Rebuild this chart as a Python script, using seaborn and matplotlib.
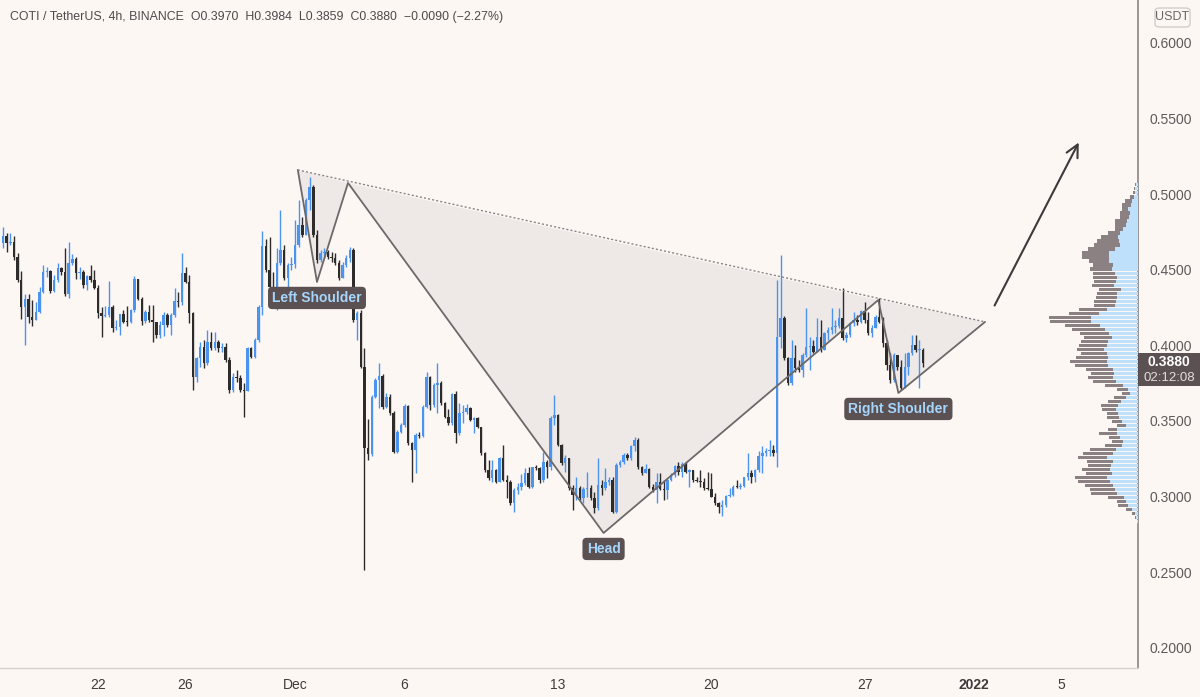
import numpy as np
import pandas as pd
import matplotlib
matplotlib.use("Agg")
import matplotlib.pyplot as plt
from matplotlib.patches import Polygon, Rectangle, FancyBboxPatch
import seaborn as sns

# ---- OHLC data (COTI/USDT 4h) ----
first_open = 0.4679
closes = [
    .4723, .4675, .4686, .4587, .4433, .4254, .4306, .4188, .4168, .4223,
    .4355, .4488, .4494, .4360, .4433, .4510, .4488, .4340, .4543, .4569,
    .4481, .4488, .4400, .4459, .4433, .4378, .4212, .4194, .4203, .4252,
    .4113, .4120, .4206, .4157, .4153, .4234, .4438, .4305, .4163, .4223,
    .4168, .4157, .4069, .4135, .4201, .4135, .4201, .4296, .4289, .4481,
    .4422, .4212, .3793, .3915, .3992, .3882, .4025, .3981, .4025, .3981,
    .3992, .3904, .3705, .3793, .3782, .3705, .3700, .3981, .3926, .4036,
    .4256, .4657, .4499, .4389, .4382, .4543, .4631, .4444, .4532, .4538,
    .4664, .4796, .4730, .4962, .5049, .4730, .4565, .4609, .4618, .4587,
    .4576, .4543, .4444, .4532, .4576, .4631, .4168, .4212, .3860, .3320,
    .3282, .3661, .3771, .3798, .3595, .3661, .3551, .3297, .3429, .3474,
    .3599, .3353, .3309, .3408, .3401, .3595, .3789, .3606, .3738, .3753,
    .3617, .3529, .3485, .3678, .3419, .3555, .3560, .3584, .3507, .3518,
    .3461, .3287, .3176, .3121, .3176, .3098, .3254, .3110, .3098, .2956,
    .3044, .3066, .3092, .3154, .3062, .3194, .3187, .3110, .3230, .3196,
    .3520, .3540, .3342, .3221, .3254, .3055, .3011, .3055, .2989, .3049,
    .3055, .2989, .2923, .3077, .3055, .3098, .3110, .2901, .3209, .3231,
    .3276, .3254, .3331, .3375, .3196, .3154, .3180, .3066, .3044, .3098,
    .3049, .3040, .3110, .3143, .3203, .3165, .3216, .3165, .3176, .3110,
    .3103, .3097, .3055, .3051, .3000, .2956, .2934, .2945, .3004, .3011,
    .3066, .3062, .3070, .3128, .3158, .3128, .3176, .3269, .3287, .3298,
    .3309, .3287, .4058, .4179, .3915, .3749, .3915, .3851, .3838, .3937,
    .3990, .3996, .3957, .4056, .3970, .4082, .4102, .4122, .4128, .4181,
    .4049, .4069, .4148, .4168, .4155, .4228, .4168, .4082, .4115, .4188,
    .4155, .4016, .3871, .3771, .3937, .3857, .3718, .3857, .3950, .4003,
    .3970, .3970, .3880,
]
highs = [
    .4785, .4741, .4745, .4723, .4611, .4494, .4340, .4340, .4300, .4289,
    .4389, .4532, .4521, .4499, .4466, .4547, .4521, .4642, .4686, .4603,
    .4587, .4517, .4499, .4466, .4532, .4499, .4400, .4256, .4260, .4426,
    .4267, .4168, .4208, .4234, .4260, .4239, .4459, .4438, .4322, .4234,
    .4267, .4267, .4157, .4161, .4223, .4214, .4212, .4378, .4355, .4609,
    .4521, .4466, .4223, .3926, .4025, .4036, .4102, .4091, .4091, .4036,
    .4016, .4014, .3926, .3815, .3838, .3805, .3749, .3992, .3992, .4047,
    .4267, .4759, .4702, .4719, .4488, .4642, .4896, .4664, .4543, .4587,
    .4829, .4962, .4851, .4973, .5116, .5061, .4763, .4631, .4644, .4631,
    .4618, .4611, .4565, .4552, .4598, .4651, .4644, .4227, .4234, .3981,
    .3511, .3672, .3784, .3886, .3811, .3683, .3678, .3566, .3441, .3487,
    .3613, .3606, .3362, .3419, .3428, .3606, .3826, .3798, .3751, .3886,
    .3764, .3626, .3580, .3685, .3698, .3620, .3606, .3613, .3593, .3527,
    .3527, .3463, .3296, .3243, .3243, .3180, .3261, .3342, .3143, .3110,
    .3055, .3088, .3150, .3187, .3198, .3198, .3209, .3198, .3296, .3243,
    .3533, .3672, .3547, .3348, .3276, .3254, .3077, .3132, .3070, .3062,
    .3165, .3077, .3033, .3254, .3110, .3187, .3128, .3128, .3221, .3243,
    .3287, .3289, .3342, .3397, .3388, .3203, .3216, .3187, .3084, .3154,
    .3154, .3110, .3114, .3156, .3209, .3231, .3231, .3229, .3183, .3176,
    .3130, .3176, .3123, .3165, .3154, .3022, .2967, .2978, .3011, .3055,
    .3077, .3110, .3090, .3132, .3287, .3176, .3180, .3303, .3331, .3320,
    .3375, .3342, .4433, .4598, .4194, .3926, .4036, .4003, .3904, .3950,
    .4247, .4056, .4036, .4181, .4168, .4089, .4122, .4247, .4168, .4247,
    .4380, .4089, .4155, .4221, .4201, .4234, .4287, .4221, .4135, .4201,
    .4313, .4188, .4036, .3950, .3950, .3937, .3904, .3950, .3957, .4069,
    .4069, .4036, .3984,
]
lows = [
    .4642, .4620, .4664, .4565, .4422, .4173, .4003, .4146, .4128, .4168,
    .4212, .4344, .4455, .4348, .4355, .4422, .4466, .4326, .4311, .4532,
    .4438, .4442, .4378, .4366, .4422, .4373, .4179, .4054, .4190, .4190,
    .4091, .4102, .4069, .4146, .4128, .4150, .4223, .4300, .4135, .4150,
    .4157, .4025, .4047, .4049, .4062, .4122, .4069, .4190, .4256, .4267,
    .4411, .4150, .3705, .3760, .3860, .3849, .3871, .3970, .3970, .3957,
    .3957, .3893, .3683, .3694, .3760, .3694, .3529, .3705, .3915, .3915,
    .4025, .4201, .4488, .4378, .4378, .4234, .4532, .4433, .4389, .4499,
    .4510, .4653, .4719, .4730, .4896, .4719, .4543, .4552, .4578, .4572,
    .4552, .4532, .4433, .4444, .4519, .4552, .4155, .4036, .3851, .2515,
    .3243, .3269, .3652, .3584, .3580, .3587, .3540, .3288, .3288, .3421,
    .3461, .3342, .3098, .3158, .3388, .3395, .3587, .3573, .3591, .3551,
    .3606, .3520, .3474, .3474, .3355, .3408, .3487, .3547, .3500, .3421,
    .3454, .3276, .3163, .3110, .3098, .3088, .3098, .3106, .2989, .2945,
    .2901, .3018, .3044, .3077, .3055, .3055, .3176, .3092, .3097, .3123,
    .3176, .3474, .3335, .3210, .3165, .3044, .2912, .2978, .2978, .2956,
    .3000, .2978, .2890, .2912, .3011, .3044, .3077, .2894, .2894, .3196,
    .3216, .3243, .3243, .3298, .3183, .3143, .3154, .3055, .3031, .2956,
    .3044, .2978, .2982, .3103, .3132, .3143, .3128, .3156, .3066, .3099,
    .3097, .3066, .3044, .3044, .2996, .2945, .2890, .2872, .2934, .3000,
    .3004, .3055, .3048, .3066, .3110, .3092, .3098, .3165, .3154, .3265,
    .3269, .3265, .3198, .3981, .3904, .3738, .3738, .3824, .3824, .3791,
    .3924, .3838, .3950, .3957, .3957, .4003, .4036, .4075, .4082, .4115,
    .4036, .4023, .4056, .4128, .4135, .4148, .4148, .4069, .4056, .4122,
    .4148, .3990, .3838, .3751, .3758, .3838, .3705, .3771, .3805, .3937,
    .3957, .3718, .3859,
]
first_candle = "2021-11-17 16:00"

# ---- visible range volume profile (top row to bottom row) ----
profile_top, profile_bottom = 0.5061, 0.2835
profile_total = [
    2.5, 3.5, 4.8, 7.5, 12.2, 15.5, 15.5, 17.5, 17.5, 22.2,
    22.2, 22.2, 29.2, 36.8, 40.8, 43.2, 49.2, 55.8, 55.8, 48.2,
    44.8, 47.5, 44.2, 44.2, 43.2, 45.8, 38.2, 40.8, 41.5, 43.5,
    43.5, 58.2, 68.2, 89.0, 88.0, 72.5, 65.8, 57.5, 53.5, 56.8,
    58.2, 60.8, 56.8, 61.5, 67.5, 62.5, 51.5, 46.8, 49.2, 44.2,
    32.5, 20.2, 15.8, 23.5, 29.8, 36.8, 35.8, 30.8, 30.8, 25.8,
    20.8, 29.2, 38.2, 28.2, 25.8, 32.5, 47.5, 54.8, 59.2, 50.2,
    49.2, 55.8, 51.5, 62.5, 59.2, 52.5, 47.5, 46.8, 29.2, 20.2,
    19.2, 11.5, 5.8, 2.5, 0.8,
]
profile_up = [
    1.5, 2.2, 2.8, 3.5, 5.8, 6.8, 9.2, 7.5, 8.2, 10.8,
    11.8, 14.2, 17.5, 19.2, 18.2, 17.5, 22.5, 28.2, 28.2, 28.2,
    24.2, 25.8, 22.5, 20.8, 21.5, 23.5, 16.8, 20.2, 20.8, 21.5,
    22.5, 30.2, 38.2, 46.8, 46.8, 37.5, 32.5, 28.2, 25.8, 29.2,
    30.8, 33.2, 30.8, 29.2, 30.8, 29.2, 24.2, 23.5, 24.8, 21.5,
    14.8, 9.2, 7.5, 11.5, 16.8, 19.2, 21.5, 19.2, 18.2, 15.8,
    11.5, 20.8, 20.2, 17.5, 14.8, 15.8, 21.5, 24.8, 30.2, 24.2,
    26.8, 27.5, 25.8, 30.8, 27.5, 24.2, 22.5, 20.2, 13.5, 11.5,
    9.2, 5.8, 2.5, 1.5, 0.2,
]

# ---- inverse head & shoulders drawing ----
pattern_times = ["2021-12-01 03:00", "2021-12-02 00:00", "2021-12-03 10:00",
                 "2021-12-15 02:00", "2021-12-27 15:00", "2021-12-28 13:00",
                 "2022-01-01 12:00"]
pattern_prices = [0.5160, 0.4419, 0.5074, 0.2759, 0.4300, 0.3685, 0.4155]
pattern_labels = {1: "Left Shoulder", 3: "Head", 5: "Right Shoulder"}
arrow_times = ["2022-01-01 21:00", "2022-01-05 20:00"]
arrow_prices = [0.4247, 0.5358]

price_ticks = [0.20, 0.25, 0.30, 0.35, 0.40, 0.45, 0.50, 0.55, 0.60]
date_ticks = ["2021-11-22", "2021-11-26", "2021-12-01", "2021-12-06", "2021-12-13",
              "2021-12-20", "2021-12-27", "2022-01-01", "2022-01-05"]
date_labels = ["22", "26", "Dec", "6", "13", "20", "27", "2022", "5"]
header = "COTI / TetherUS, 4h, BINANCE  O0.3970  H0.3984  L0.3859  C0.3880  \u22120.0090 (\u22122.27%)"

BG = "#fdf7f4"
UP = "#4a94ef"
DOWN = "#2e2b2b"

sns.set_theme(style="white", rc={"axes.facecolor": BG, "figure.facecolor": BG})
plt.rcParams["font.family"] = ["Liberation Sans", "DejaVu Sans"]

df = pd.DataFrame({"close": closes, "high": highs, "low": lows})
df["open"] = [first_open] + closes[:-1]
df["time"] = pd.date_range(first_candle, periods=len(df), freq="4h")
body_lo = df[["open", "close"]].min(axis=1)
body_hi = df[["open", "close"]].max(axis=1)
df["high"] = np.maximum(df["high"], body_hi)
df["low"] = np.minimum(df["low"], body_lo)
colors = np.where(df["close"] >= df["open"], UP, DOWN)

fig = plt.figure(figsize=(12, 6.97), dpi=100)
ax = fig.add_axes([0, 29 / 697, 1137.5 / 1200, 668 / 697])

ax.vlines(df["time"], df["low"], df["high"], colors=colors, linewidth=1.0, zorder=3)
ax.bar(df["time"], np.maximum(body_hi - body_lo, 0.0006), bottom=body_lo,
       width=pd.Timedelta(hours=2.7), color=colors, linewidth=0, zorder=4)

# pattern
pt = pd.to_datetime(pattern_times)
px = [matplotlib.dates.date2num(t) for t in pt]
pts = list(zip(px, pattern_prices))
for tri in (pts[0:3], pts[2:5], pts[4:7]):
    ax.add_patch(Polygon(tri, closed=True, facecolor="#e9e5e3", alpha=0.75,
                         edgecolor="none", zorder=1))
ax.plot(pt, pattern_prices, color="#6d6869", linewidth=1.3, zorder=5)
ax.plot([pt[0], pt[-1]], [pattern_prices[0], pattern_prices[-1]], color="#8a8585",
        linewidth=1.0, linestyle=(0, (1.5, 1.5)), zorder=5)
for k, txt in pattern_labels.items():
    ax.annotate(txt, xy=(pt[k], pattern_prices[k]), xytext=(0, -11.5),
                textcoords="offset points", ha="center", va="center",
                fontsize=10, fontweight="bold", color="#a6d5fb", zorder=6,
                bbox=dict(boxstyle="round,pad=0.3,rounding_size=0.3",
                          fc="#5b5153", ec="none"))

at = pd.to_datetime(arrow_times)
ax.annotate("", xy=(at[1], arrow_prices[1]), xytext=(at[0], arrow_prices[0]),
            arrowprops=dict(arrowstyle="->", color="#3c3a3a", lw=1.5,
                            mutation_scale=22), zorder=6)

# volume profile
levels = np.linspace(profile_top, profile_bottom, len(profile_total))
vp = ax.inset_axes([1 - 100 / 1137.5, 0, 100 / 1137.5, 1])
sns.barplot(x=profile_total, y=levels, orient="h", native_scale=True, width=0.78,
            color="#8b8182", saturation=1, ax=vp, linewidth=0)
sns.barplot(x=profile_up, y=levels, orient="h", native_scale=True, width=0.78,
            color="#bfe0fa", saturation=1, ax=vp, linewidth=0)
vp.set_xlim(100, 0)
ylims = (0.1866, 0.6284)
vp.set_ylim(*ylims)
vp.axis("off")
vp.patch.set_alpha(0)

ax.set_ylim(*ylims)
ax.set_xlim(pd.Timestamp(first_candle) - pd.Timedelta(hours=3.3),
            pd.Timestamp(first_candle) + pd.Timedelta(hours=1243))

ax.yaxis.tick_right()
ax.set_yticks(price_ticks)
ax.set_yticklabels([f"{v:.4f}" for v in price_ticks])
ax.set_xticks(pd.to_datetime(date_ticks))
ax.set_xticklabels(date_labels)
for lab in ax.get_xticklabels():
    if lab.get_text() == "2022":
        lab.set_fontweight("bold")
ax.tick_params(axis="y", length=0, pad=9, labelsize=10, labelcolor="#5e5a5a")
ax.tick_params(axis="x", length=0, pad=7, labelsize=10, labelcolor="#3f3b3b")
ax.set_xlabel("")
ax.set_ylabel("")
for s in ("top", "left"):
    ax.spines[s].set_visible(False)
ax.spines["right"].set_color("#8a8585")
ax.spines["right"].set_linewidth(1.2)
ax.spines["bottom"].set_color("#d6d1cf")
ax.spines["bottom"].set_linewidth(1.0)

# header
fig.text(10 / 1200, 1 - 17 / 697, header, fontsize=8.9, color="#4f4a4a", va="center")

# currency badge
fig.patches.append(FancyBboxPatch((1155 / 1200, 1 - 27 / 697), 35 / 1200, 19 / 697,
                                  boxstyle="round,pad=0,rounding_size=0.004",
                                  transform=fig.transFigure, fc=BG, ec="#d2cccc", lw=1))
fig.text(1172.5 / 1200, 1 - 17.5 / 697, "USDT", fontsize=9, color="#6b6666",
         ha="center", va="center")

# last price tag
fig.patches.append(Rectangle((1138 / 1200, 1 - 386 / 697), 62 / 1200, 33 / 697,
                             transform=fig.transFigure, fc="#5b5153", ec="none"))
fig.text(1169 / 1200, 1 - 362 / 697, f"{closes[-1]:.4f}", fontsize=10,
         color="white", ha="center", va="center", fontweight="bold")
fig.text(1169 / 1200, 1 - 378 / 697, "02:12:08", fontsize=9.5, color="#e3dcdc",
         ha="center", va="center")

fig.savefig("out.png", dpi=100, facecolor=BG)
